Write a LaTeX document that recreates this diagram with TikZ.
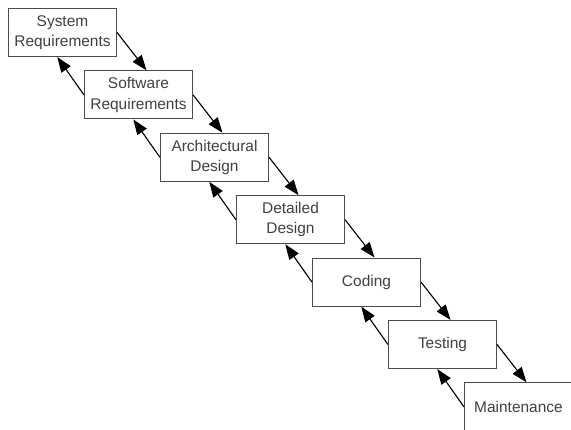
\documentclass[tikz,border=0pt]{standalone}
\usepackage{fontspec}
\setmainfont{Liberation Sans}
\usetikzlibrary{positioning,arrows.meta}

\begin{document}
\begin{tikzpicture}[phase/.style={draw=black!70, line width=0.8pt, minimum width=2.7cm, minimum height=1.2cm, align=center, text=black!75, font=\fontsize{11}{14.5}\selectfont},
    flow/.style={-{Triangle[length=0.38cm,width=0.28cm]}, line width=0.8pt}]
        \useasboundingbox (0,0) rectangle (14.275,-10.75);
        \clip (0,0) rectangle (14.275,-10.75);
        \node [phase] (SysReq) at (1.5625,-0.8125) {System\\Requirements};
        \node [phase, on grid, below right=1.56cm and 1.9cm of SysReq] (SwReq) {Software\\Requirements};
        \node [phase, on grid, below right=1.56cm and 1.9cm of SwReq] (ArchD) {Architectural\\Design};
        \node [phase, on grid, below right=1.56cm and 1.9cm of ArchD] (DetD) {Detailed\\Design};
        \node [phase, on grid, below right=1.56cm and 1.9cm of DetD] (Code) {Coding};
        \node [phase, on grid, below right=1.56cm and 1.9cm of Code] (Test) {Testing};
        \node [phase, on grid, below right=1.56cm and 1.9cm of Test] (Maint) {Maintenance};
        \foreach \a/\b in {SysReq/SwReq, SwReq/ArchD, ArchD/DetD, DetD/Code, Code/Test, Test/Maint} {
          \draw [flow] (\a.east) to ([xshift=0.2cm]\b.north);
          \draw [flow] (\b.west) to ([xshift=-0.13cm]\a.south);
        }
      \end{tikzpicture}
\end{document}
